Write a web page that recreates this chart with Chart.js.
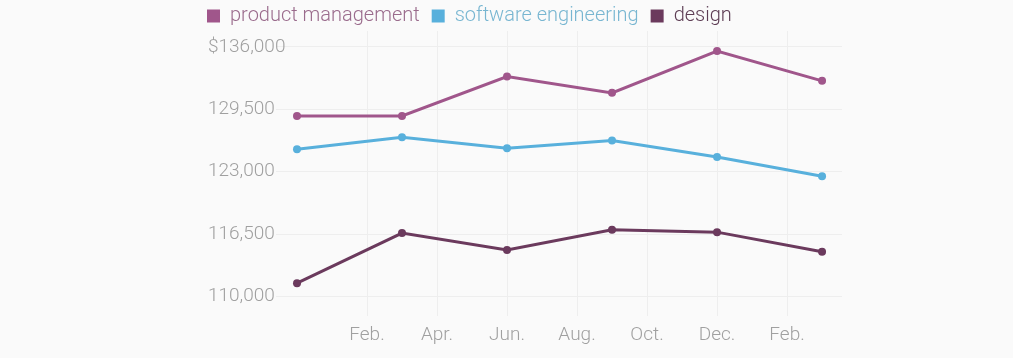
<!DOCTYPE html>
<html>
<head>
<meta charset="utf-8">
<script src="https://cdn.jsdelivr.net/npm/chart.js@4/dist/chart.umd.min.js"></script>
<style>
  html, body { margin: 0; padding: 0; background: #fafafa; }
  #wrap { width: 1013px; height: 358px; position: relative; }
</style>
</head>
<body>
<div id="wrap"><canvas id="salaryChart"></canvas></div>
<script>
// quarterly points, x = months counted from the first December
const quarters = ["Dec.", "Mar.", "Jun.", "Sep.", "Dec.", "Mar."];
const quarterMonth = [0, 3, 6, 9, 12, 15];

const productManagement = [128800, 128800, 132900, 131200, 135550, 132450];
const softwareEngineering = [125330, 126580, 125430, 126240, 124530, 122510];
const design = [111390, 116600, 114830, 116950, 116700, 114660];

const xTickMonths = [2, 4, 6, 8, 10, 12, 14];
const xTickLabels = ["Feb.", "Apr.", "Jun.", "Aug.", "Oct.", "Dec.", "Feb."];
const yTicks = [110000, 116500, 123000, 129500, 136000];

const seriesNames = ["product management", "software engineering", "design"];
const lineColors = ["#a0568b", "#58b0dc", "#6b3a5d"];
const legendTextColors = ["#9a6b8c", "#78b6d1", "#5d3d54"];

function points(values) {
  return values.map((v, i) => ({ x: quarterMonth[i], y: v }));
}

function makeDataset(i, values) {
  return {
    label: seriesNames[i],
    data: points(values),
    borderColor: lineColors[i],
    backgroundColor: lineColors[i],
    borderWidth: 3,
    pointRadius: 4,
    pointBorderWidth: 0,
    pointBackgroundColor: lineColors[i],
    tension: 0,
    fill: false
  };
}

// nudge the legend so it lines up with the y labels,
// and let the y labels run over the left edge of the plot
const layoutTweaks = {
  id: "layoutTweaks",
  afterLayout(chart) {
    chart.legend.left -= 13;
    chart.legend.right -= 13;
    chart.legend.top += 5;
    chart.scales.y.right += 14;
  }
};

const tickFont = { family: "Roboto", size: 19, weight: 300 };

new Chart(document.getElementById("salaryChart"), {
  type: "line",
  data: {
    datasets: [
      makeDataset(0, productManagement),
      makeDataset(1, softwareEngineering),
      makeDataset(2, design)
    ]
  },
  options: {
    responsive: true,
    maintainAspectRatio: false,
    animation: false,
    layout: { padding: { left: 208, right: 171, top: -11, bottom: 3.5 } },
    plugins: {
      tooltip: { enabled: false },
      legend: {
        position: "top",
        align: "start",
        labels: {
          boxWidth: 13,
          boxHeight: 13,
          padding: 12,
          font: { family: "Roboto", size: 20, weight: 300 },
          generateLabels(chart) {
            return chart.data.datasets.map((ds, i) => ({
              text: ds.label,
              fillStyle: lineColors[i],
              strokeStyle: lineColors[i],
              lineWidth: 0,
              fontColor: legendTextColors[i],
              datasetIndex: i,
              hidden: false
            }));
          }
        }
      }
    },
    scales: {
      x: {
        type: "linear",
        min: -0.6,
        max: 15.57,
        afterBuildTicks(scale) {
          scale.ticks = xTickMonths.map((m) => ({ value: m }));
        },
        ticks: {
          color: "#a0a0a0",
          font: tickFont,
          padding: 8,
          maxRotation: 0,
          autoSkip: false,
          callback: (v, i) => xTickLabels[i]
        },
        grid: { color: "#eeeeee", drawTicks: false },
        border: { display: false }
      },
      y: {
        min: 108000,
        max: 137640,
        afterBuildTicks(scale) {
          scale.ticks = yTicks.map((v) => ({ value: v }));
        },
        afterFit(scale) {
          scale.width = 68;
        },
        ticks: {
          color: "#a0a0a0",
          font: tickFont,
          crossAlign: "far",
          callback: (v, i, arr) => (i === arr.length - 1 ? "$" : "") + v.toLocaleString("en-US")
        },
        grid: { color: "#eeeeee", drawTicks: false },
        border: { display: false }
      }
    }
  },
  plugins: [layoutTweaks]
});
</script>
</body>
</html>
